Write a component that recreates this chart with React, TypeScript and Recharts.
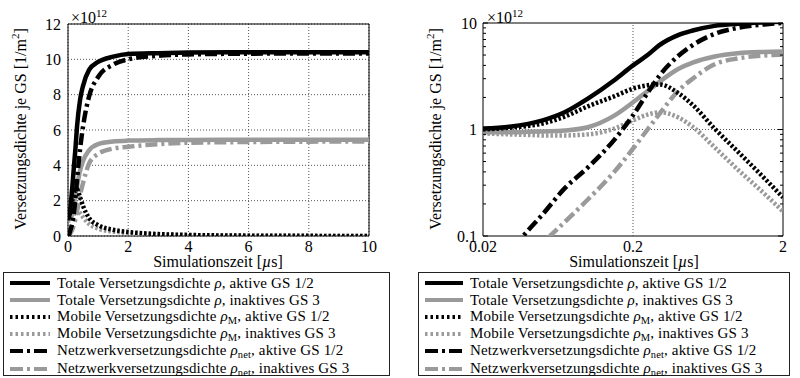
import React from "react";
import { LineChart, Line, XAxis, YAxis, CartesianGrid, ReferenceArea, ReferenceLine } from "recharts";

// simulation time in µs
const times = [0, 0.02, 0.03, 0.04, 0.05, 0.07, 0.1, 0.15, 0.2, 0.25, 0.3, 0.4, 0.5, 0.7, 1, 1.5, 2, 3, 4, 6, 8, 10];

// dislocation densities in 1e12 / m^2
const totalActive = [1.0, 1.02, 1.06, 1.13, 1.22, 1.45, 1.95, 2.9, 4.0, 5.0, 6.2, 7.7, 8.5, 9.4, 9.85, 10.15, 10.3, 10.35, 10.38, 10.4, 10.4, 10.4];
const totalInactive = [0.95, 0.94, 0.94, 0.95, 0.96, 0.98, 1.05, 1.35, 1.8, 2.3, 2.8, 3.7, 4.25, 4.85, 5.2, 5.35, 5.4, 5.43, 5.44, 5.45, 5.45, 5.45];
const mobileActive = [1.0, 1.0, 1.04, 1.08, 1.14, 1.32, 1.65, 2.05, 2.42, 2.6, 2.65, 2.2, 1.7, 1.02, 0.62, 0.35, 0.23, 0.11, 0.06, 0.02, 0.008, 0.003];
const mobileInactive = [0.93, 0.92, 0.9, 0.89, 0.88, 0.88, 0.9, 1.02, 1.22, 1.38, 1.45, 1.3, 1.06, 0.68, 0.42, 0.25, 0.17, 0.09, 0.05, 0.017, 0.006, 0.002];
const networkActive = [0, 0.037, 0.071, 0.113, 0.16, 0.28, 0.44, 0.8, 1.36, 2.2, 3.2, 4.9, 6.2, 7.9, 9.0, 9.7, 10.0, 10.2, 10.28, 10.32, 10.33, 10.33];
const networkInactive = [0, 0.024, 0.042, 0.063, 0.086, 0.135, 0.22, 0.4, 0.66, 1.0, 1.4, 2.3, 3.0, 4.1, 4.65, 4.95, 5.05, 5.2, 5.28, 5.32, 5.34, 5.35];

const linTicksX = [0, 2, 4, 6, 8, 10];
const linTicksY = [0, 2, 4, 6, 8, 10, 12];
const logTicksX = [0.02, 0.2, 2];
const logTicksY = [0.1, 1, 10];
const logMinorY = [0.1, 0.2, 0.3, 0.4, 0.5, 0.6, 0.7, 0.8, 0.9, 1, 2, 3, 4, 5, 6, 7, 8, 9, 10];

const BLACK = "#000";
const GRAY = "#9a9a9a";
const DOT = "2.5 2";
const DASHDOT = "12 4 3 4";

const series = [
  { key: "totalInactive", color: GRAY, dash: undefined },
  { key: "mobileInactive", color: GRAY, dash: DOT },
  { key: "networkInactive", color: GRAY, dash: DASHDOT },
  { key: "totalActive", color: BLACK, dash: undefined },
  { key: "mobileActive", color: BLACK, dash: DOT },
  { key: "networkActive", color: BLACK, dash: DASHDOT },
];

const legendRows = [
  { color: BLACK, dash: undefined, name: "Totale Versetzungsdichte", sub: "", rest: ", aktive GS 1/2" },
  { color: GRAY, dash: undefined, name: "Totale Versetzungsdichte", sub: "", rest: ", inaktives GS 3" },
  { color: BLACK, dash: "2.5 3", name: "Mobile Versetzungsdichte", sub: "M", rest: ", aktive GS 1/2" },
  { color: GRAY, dash: "2.5 3", name: "Mobile Versetzungsdichte", sub: "M", rest: ", inaktives GS 3" },
  { color: BLACK, dash: "13 4 3 4", name: "Netzwerkversetzungsdichte", sub: "net", rest: ", aktive GS 1/2" },
  { color: GRAY, dash: "13 4 3 4", name: "Netzwerkversetzungsdichte", sub: "net", rest: ", inaktives GS 3" },
];

const rows = times.map((t, i) => ({
  t,
  totalActive: totalActive[i],
  totalInactive: totalInactive[i],
  mobileActive: mobileActive[i],
  mobileInactive: mobileInactive[i],
  networkActive: networkActive[i],
  networkInactive: networkInactive[i],
}));
const logRows = rows.filter((r) => r.t >= 0.02 && r.t <= 2);

const FONT = "'Liberation Serif', 'Times New Roman', serif";
const tickStyle = { fontFamily: FONT, fontSize: 16, fill: "#000" };

// right plot edges inside its 400px chart
const LOG_LEFT = 83;
const LOG_RIGHT = 383;

function LogYTick(props: any) {
  const { x, y, payload } = props;
  const v = payload.value;
  const major = logTicksY.includes(v);
  const len = major ? 5 : 3;
  return (
    <g>
      <line x1={LOG_LEFT} x2={LOG_LEFT + len} y1={y} y2={y} stroke="#000" strokeWidth={1} />
      <line x1={LOG_RIGHT} x2={LOG_RIGHT - len} y1={y} y2={y} stroke="#000" strokeWidth={1} />
      {major && (
        <text x={x} y={y} dy="0.355em" textAnchor="end" {...tickStyle}>
          {String(v)}
        </text>
      )}
    </g>
  );
}

function Legend({ left, width, sampleW }: { left: number; width: number; sampleW: number }) {
  return (
    <div
      style={{
        position: "absolute",
        left,
        top: 272,
        width,
        height: 104,
        boxSizing: "border-box",
        border: "1px solid #222",
        paddingTop: 1.5,
        fontFamily: FONT,
        fontSize: 15,
        color: "#000",
      }}
    >
      {legendRows.map((r, i) => (
        <div key={i} style={{ height: 17.1, lineHeight: "17px", display: "flex", alignItems: "center", whiteSpace: "nowrap", overflow: "visible" }}>
          <svg width={sampleW} height={8} style={{ marginLeft: 6, marginRight: 7, flex: "none" }}>
            <line x1={0} y1={4} x2={sampleW} y2={4} stroke={r.color} strokeWidth={4} strokeDasharray={r.dash} />
          </svg>
          <span style={{ letterSpacing: 0.15 }}>
            {r.name} <i>ρ</i>
            {r.sub && <span style={{ fontSize: 10.5, position: "relative", top: 3 }}>{r.sub}</span>}
            {r.rest}
          </span>
        </div>
      ))}
    </div>
  );
}

function Labels({ left, plotCx, yLabelX }: { left: number; plotCx: number; yLabelX: number }) {
  return (
    <>
      <div
        style={{
          position: "absolute",
          left: yLabelX,
          top: 129,
          transform: "translate(-50%, -50%) rotate(-90deg)",
          whiteSpace: "nowrap",
          fontFamily: FONT,
          fontSize: 16,
          lineHeight: "18px",
        }}
      >
        Versetzungsdichte je GS [1/m<sup style={{ fontSize: 11 }}>2</sup>]
      </div>
      <div
        style={{
          position: "absolute",
          left: plotCx,
          top: 262,
          transform: "translate(-50%, -50%)",
          whiteSpace: "nowrap",
          fontFamily: FONT,
          fontSize: 16,
          lineHeight: "18px",
        }}
      >
        Simulationszeit [<i>µ</i>s]
      </div>
      <div
        style={{
          position: "absolute",
          left: left,
          top: 4,
          whiteSpace: "nowrap",
          fontFamily: FONT,
          fontSize: 16,
          lineHeight: "18px",
        }}
      >
        ×10<sup style={{ fontSize: 11 }}>12</sup>
      </div>
    </>
  );
}

function renderLines() {
  return series.map((s) => (
    <Line
      key={s.key}
      dataKey={s.key}
      type="monotone"
      stroke={s.color}
      strokeWidth={4.5}
      strokeDasharray={s.dash}
      dot={false}
      activeDot={false}
      isAnimationActive={false}
    />
  ));
}

export default function App() {
  return (
    <div style={{ position: "absolute", left: 0, top: 0, width: 800, height: 378, background: "#fff" }}>
      <div style={{ position: "absolute", left: 0, top: 0 }}>
        <LineChart width={400} height={378} data={rows} margin={{ top: 24, right: 31, bottom: 112, left: 0 }}>
          <CartesianGrid stroke="#555" strokeDasharray="1 2" />
          <XAxis
            dataKey="t"
            type="number"
            domain={[0, 10]}
            ticks={linTicksX}
            allowDataOverflow
            axisLine={false}
            tickLine={false}
            tickSize={4}
            tickMargin={1}
            height={30}
            tick={tickStyle}
          />
          <YAxis
            type="number"
            domain={[0, 12]}
            ticks={linTicksY}
            allowDataOverflow
            axisLine={false}
            tickLine={false}
            tickSize={5}
            tickMargin={2}
            width={68}
            tick={tickStyle}
          />
          {renderLines()}
          <ReferenceArea x1={0} x2={10} y1={0} y2={12} fill="none" stroke="#000" strokeWidth={1} />
        </LineChart>
      </div>
      <div style={{ position: "absolute", left: 400, top: 0 }}>
        <LineChart width={400} height={378} data={logRows} margin={{ top: 23, right: 17, bottom: 112, left: 0 }}>
          <ReferenceLine x={0.2} stroke="#555" strokeDasharray="1 2" />
          <ReferenceLine y={1} stroke="#555" strokeDasharray="1 2" />
          <XAxis
            dataKey="t"
            type="number"
            scale="log"
            domain={[0.02, 2]}
            ticks={logTicksX}
            allowDataOverflow
            axisLine={false}
            tickLine={false}
            tickSize={4}
            tickMargin={1}
            height={30}
            tick={tickStyle}
            tickFormatter={(v: number) => String(v)}
          />
          <YAxis
            type="number"
            scale="log"
            domain={[0.1, 10]}
            ticks={logMinorY}
            interval={0}
            allowDataOverflow
            axisLine={false}
            tickLine={false}
            tickSize={4}
            tickMargin={2}
            width={LOG_LEFT}
            tick={<LogYTick />}
          />
          {renderLines()}
          <ReferenceArea x1={0.02} x2={2} y1={0.1} y2={10} fill="none" stroke="#000" strokeWidth={1} />
        </LineChart>
      </div>
      <Labels left={71} plotCx={218} yLabelX={18} />
      <Labels left={487} plotCx={634} yLabelX={433} />
      <Legend left={3} width={387} sampleW={40} />
      <Legend left={418} width={372} sampleW={38} />
    </div>
  );
}
